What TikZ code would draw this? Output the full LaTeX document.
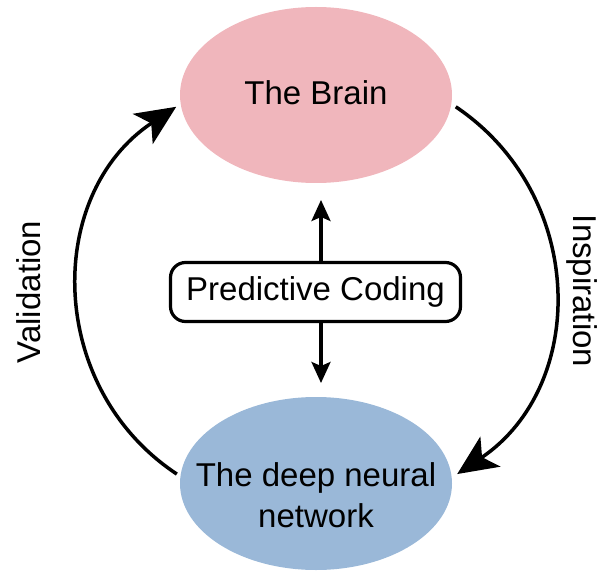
\documentclass[tikz,border=0pt]{standalone}
\usepackage{fontspec}
\setmainfont{Liberation Sans}
\usetikzlibrary{arrows.meta,shapes.geometric}
\definecolor{brainpink}{HTML}{F0B6BC}
\definecolor{dnnblue}{HTML}{9AB8D8}
\begin{document}
\begin{tikzpicture}[x=1pt,y=1pt,
  txt/.style={font=\fontsize{33}{41}\selectfont},
  blob/.style={ellipse, minimum width=272pt, inner sep=0pt, outer sep=0pt},
  bigarrow/.style={line width=3.5pt, -{Stealth[length=40pt,width=36pt,inset=10pt]}},
  smallarrow/.style={line width=3.2pt, -{Stealth[length=21pt,width=19pt,inset=4pt]}},
  pcbox/.style={draw, line width=3.2pt, rounded corners=15pt, minimum width=290pt, minimum height=59pt, inner sep=0pt}
]
\useasboundingbox (0,0) rectangle (599,571);
\node[blob, fill=brainpink, minimum height=176pt] (brain) at (316,476) {};
\node[txt] (braintext) at ([yshift=2pt]brain.center) {The Brain};
\node[blob, fill=dnnblue, minimum height=173pt] (dnn) at (316,87.5) {};
\node[txt, align=center] (dnntext) at (316,75.5) {The deep neural\\network};
\node[txt, pcbox] (pc) at (315.5,279) {Predictive Coding};
\coordinate (uptip) at (321,371);
\coordinate (downtip) at (321,188);
\draw[smallarrow] (pc.north -| uptip) -- (uptip);
\draw[smallarrow] (pc.south -| downtip) -- (downtip);
\draw[bigarrow] ([xshift=-4pt]dnn.176) to[out=146.5, in=213.5, looseness=1.1] ([xshift=-5pt]brain.185);
\draw[bigarrow] ([xshift=5pt]brain.355) to[out=-34, in=34, looseness=1.1] ([xshift=6pt]dnn.4);
\node[txt, rotate=90] (val) at (29,279) {Validation};
\node[txt, rotate=-90] (insp) at (582,280) {Inspiration};
\end{tikzpicture}
\end{document}
